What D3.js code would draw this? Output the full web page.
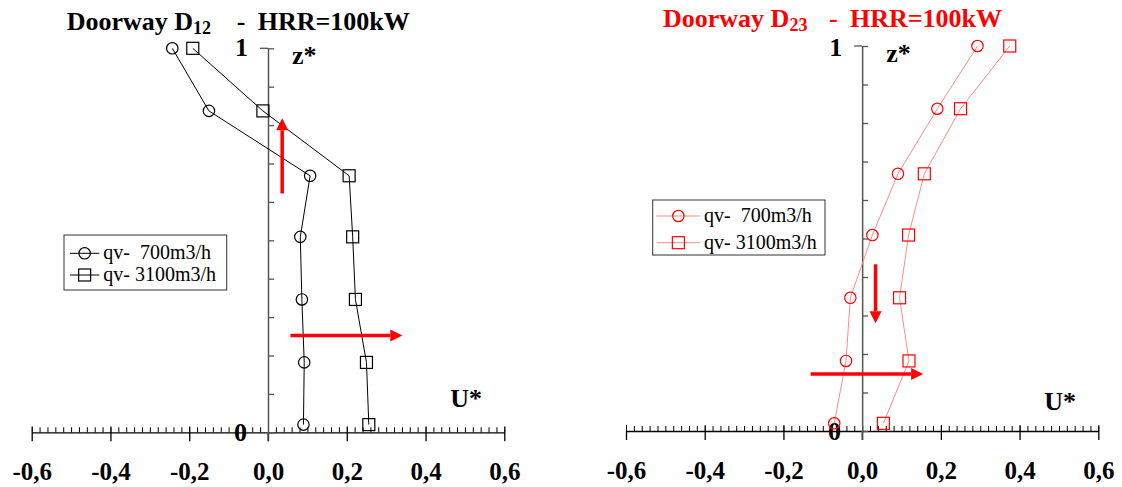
<!DOCTYPE html>
<html>
<head>
<meta charset="utf-8">
<script src="https://cdn.jsdelivr.net/npm/d3@7"></script>
<style>
  body { margin: 0; background: #fff; }
  text { font-family: "Liberation Serif", "Times New Roman", serif; white-space: pre; }
</style>
</head>
<body>
<div id="chart"></div>
<script>
// dimensionless height of the measuring points
const zLevels = [1.0, 0.837, 0.668, 0.509, 0.346, 0.182, 0.02];

// U* values, doorway D12
const d12Qv700 = [-0.243, -0.150, 0.107, 0.082, 0.086, 0.092, 0.090];
const d12Qv3100 = [-0.191, -0.013, 0.206, 0.215, 0.222, 0.250, 0.256];

// U* values, doorway D23
const d23Qv700 = [0.293, 0.191, 0.091, 0.026, -0.030, -0.041, -0.071];
const d23Qv3100 = [0.375, 0.250, 0.158, 0.118, 0.095, 0.119, 0.054];

const xTicks = [-0.6, -0.4, -0.2, 0.0, 0.2, 0.4, 0.6];
const legendLabels = ["qv-  700m3/h", "qv- 3100m3/h"];

// flow direction arrows [u0, z0, u1, z1]
const d12Arrows = [[0.036, 0.622, 0.036, 0.818], [0.057, 0.252, 0.341, 0.252]];
const d23Arrows = [[0.034, 0.433, 0.034, 0.28], [-0.131, 0.148, 0.155, 0.148]];

const width = 1122, height = 487;

const svg = d3.select("#chart")
  .append("svg")
  .attr("width", width)
  .attr("height", height);

function drawPanel(opt) {
  const x = d3.scaleLinear().domain([-0.6, 0.6]).range(opt.xRange);
  const y = d3.scaleLinear().domain([0, 1]).range(opt.yRange);
  const g = svg.append("g");
  const y0 = y(0);

  // horizontal axis: minor ticks on top, major ticks crossing
  const minor = d3.range(-30, 31).map(i => i / 50);
  g.append("g")
    .attr("transform", `translate(0,${y0})`)
    .call(d3.axisTop(x).tickValues(minor).tickSize(5).tickSizeOuter(0).tickFormat(""))
    .call(a => a.selectAll("line").attr("stroke", "#000"))
    .call(a => a.select(".domain").attr("stroke", "#000").attr("stroke-width", 1.3));
  g.append("g")
    .attr("transform", `translate(0,${y0})`)
    .call(d3.axisTop(x).tickValues(xTicks).tickSize(6).tickSizeOuter(0).tickFormat(""))
    .call(a => a.select(".domain").remove());
  g.append("g")
    .attr("transform", `translate(0,${y0})`)
    .call(d3.axisBottom(x).tickValues(xTicks).tickSize(9).tickSizeOuter(0)
      .tickFormat(d => d.toFixed(1).replace(".", ",")))
    .call(a => a.select(".domain").remove())
    .call(a => a.selectAll("line").attr("stroke", "#000").attr("stroke-width", 1.3))
    .call(a => a.selectAll("text")
      .attr("y", 48).attr("dy", 0)
      .attr("fill", "#000")
      .attr("font-size", 25).attr("font-weight", "bold")
      .attr("font-family", "Liberation Serif, serif"));

  // vertical axis, ticks every 0.1 on the right
  g.append("g")
    .attr("transform", `translate(${x(0)},0)`)
    .call(d3.axisRight(y).tickValues(d3.range(0, 11).map(i => i / 10)).tickSize(6).tickSizeOuter(0).tickFormat(""))
    .call(a => a.selectAll("line").attr("stroke", "#555").attr("stroke-width", 1.3))
    .call(a => a.select(".domain").attr("stroke", "#555").attr("stroke-width", 1.5));
  g.append("line")
    .attr("x1", x(0) - 8).attr("x2", x(0))
    .attr("y1", y(1)).attr("y2", y(1))
    .attr("stroke", "#555").attr("stroke-width", 1.3);
  g.append("line")
    .attr("x1", x(0)).attr("x2", x(0))
    .attr("y1", y0).attr("y2", y0 + 9)
    .attr("stroke", "#555").attr("stroke-width", 1.5);

  // axis labels
  const lab = (t, px, py, anchor) => g.append("text")
    .attr("x", px).attr("y", py)
    .attr("text-anchor", anchor)
    .attr("font-size", 26).attr("font-weight", "bold")
    .text(t);
  lab("1", x(0) - 20, y(1) + opt.oneDy, "end");
  lab("0", x(-0.07), y0 + 9, "middle");
  lab("z*", x(0) + 24, y(1) + 16, "start");
  lab("U*", x(0.6) - 54, opt.uStarY, "start");

  // title
  const title = g.append("text")
    .attr("x", opt.titleX).attr("y", opt.titleY)
    .attr("font-size", 26).attr("font-weight", "bold")
    .attr("fill", opt.titleColor);
  title.append("tspan").text("Doorway D");
  title.append("tspan").attr("font-size", 18).attr("dy", 4).text(opt.sub);
  title.append("tspan").attr("x", opt.titleX + opt.dashDx).attr("dy", -4).text("-");
  title.append("tspan").attr("x", opt.titleX + opt.dashDx + 21).text("HRR=100kW");

  // series
  const series = [
    { vals: opt.s700, shape: "circle" },
    { vals: opt.s3100, shape: "square" }
  ];
  const line = d3.line().x(d => x(d[0])).y(d => y(d[1]));
  series.forEach(s => {
    const pts = s.vals.map((v, i) => [v, zLevels[i]]);
    g.append("path")
      .datum(pts)
      .attr("d", line)
      .attr("fill", "none")
      .attr("stroke", opt.lineColor)
      .attr("stroke-width", 1);
    drawMarkers(g, pts.map(p => [x(p[0]), y(p[1])]), s.shape, opt.markColor);
  });

  // arrows
  opt.arrows.forEach(a => {
    drawArrow(g, x(a[0]), y(a[1]), x(a[2]), y(a[3]));
  });

  // legend
  const lg = g.append("g").attr("transform", `translate(${opt.legend[0]},${opt.legend[1]})`);
  lg.append("rect")
    .attr("width", opt.legend[2]).attr("height", 55)
    .attr("fill", "#fff").attr("stroke", "#333").attr("stroke-width", 1);
  legendLabels.forEach((t, i) => {
    const cy = opt.legendRow0 + i * opt.legendStep;
    lg.append("line")
      .attr("x1", opt.legendLine[0]).attr("x2", opt.legendLine[1])
      .attr("y1", cy).attr("y2", cy)
      .attr("stroke", opt.lineColor).attr("stroke-width", 1);
    drawMarkers(lg, [[(opt.legendLine[0] + opt.legendLine[1]) / 2, cy]], i ? "square" : "circle", opt.markColor);
    lg.append("text")
      .attr("x", opt.legendLine[1] + 4).attr("y", cy + 6)
      .attr("font-size", 20)
      .text(t);
  });
}

function drawMarkers(g, pts, shape, color) {
  if (shape === "circle") {
    g.selectAll(null).data(pts).join("circle")
      .attr("cx", d => d[0]).attr("cy", d => d[1]).attr("r", 5.7)
      .attr("fill", "none").attr("stroke", color).attr("stroke-width", 1.2);
  } else {
    g.selectAll(null).data(pts).join("rect")
      .attr("x", d => d[0] - 6).attr("y", d => d[1] - 6)
      .attr("width", 12).attr("height", 12)
      .attr("fill", "none").attr("stroke", color).attr("stroke-width", 1.2);
  }
}

function drawArrow(g, x1, y1, x2, y2) {
  const ang = Math.atan2(y2 - y1, x2 - x1);
  const hl = 12, hw = 6;
  const bx = x2 - hl * Math.cos(ang), by = y2 - hl * Math.sin(ang);
  g.append("line")
    .attr("x1", x1).attr("y1", y1).attr("x2", bx).attr("y2", by)
    .attr("stroke", "#ff0000").attr("stroke-width", 3.5);
  const px = -Math.sin(ang) * hw, py = Math.cos(ang) * hw;
  g.append("path")
    .attr("d", `M${x2},${y2}L${bx + px},${by + py}L${bx - px},${by - py}Z`)
    .attr("fill", "#ff0000");
}

drawPanel({
  xRange: [31.7, 504.3], yRange: [432.3, 48.3],
  s700: d12Qv700, s3100: d12Qv3100,
  lineColor: "#000", markColor: "#000",
  titleX: 66.7, titleY: 30, titleColor: "#000", sub: "12", dashDx: 170,
  uStarY: 407, oneDy: 8,
  arrows: d12Arrows,
  legend: [64, 235, 162.7], legendLine: [6, 35.3], legendRow0: 18.3, legendStep: 21.7
});

drawPanel({
  xRange: [626, 1098.3], yRange: [431, 46],
  s700: d23Qv700, s3100: d23Qv3100,
  lineColor: "#ff8a8a", markColor: "#ff0000",
  titleX: 663, titleY: 27, titleColor: "#ff0000", sub: "23", dashDx: 166,
  uStarY: 410, oneDy: 10,
  arrows: d23Arrows,
  legend: [652.7, 200, 172.3], legendLine: [4, 47.3], legendRow0: 16, legendStep: 26.7
});
</script>
</body>
</html>
